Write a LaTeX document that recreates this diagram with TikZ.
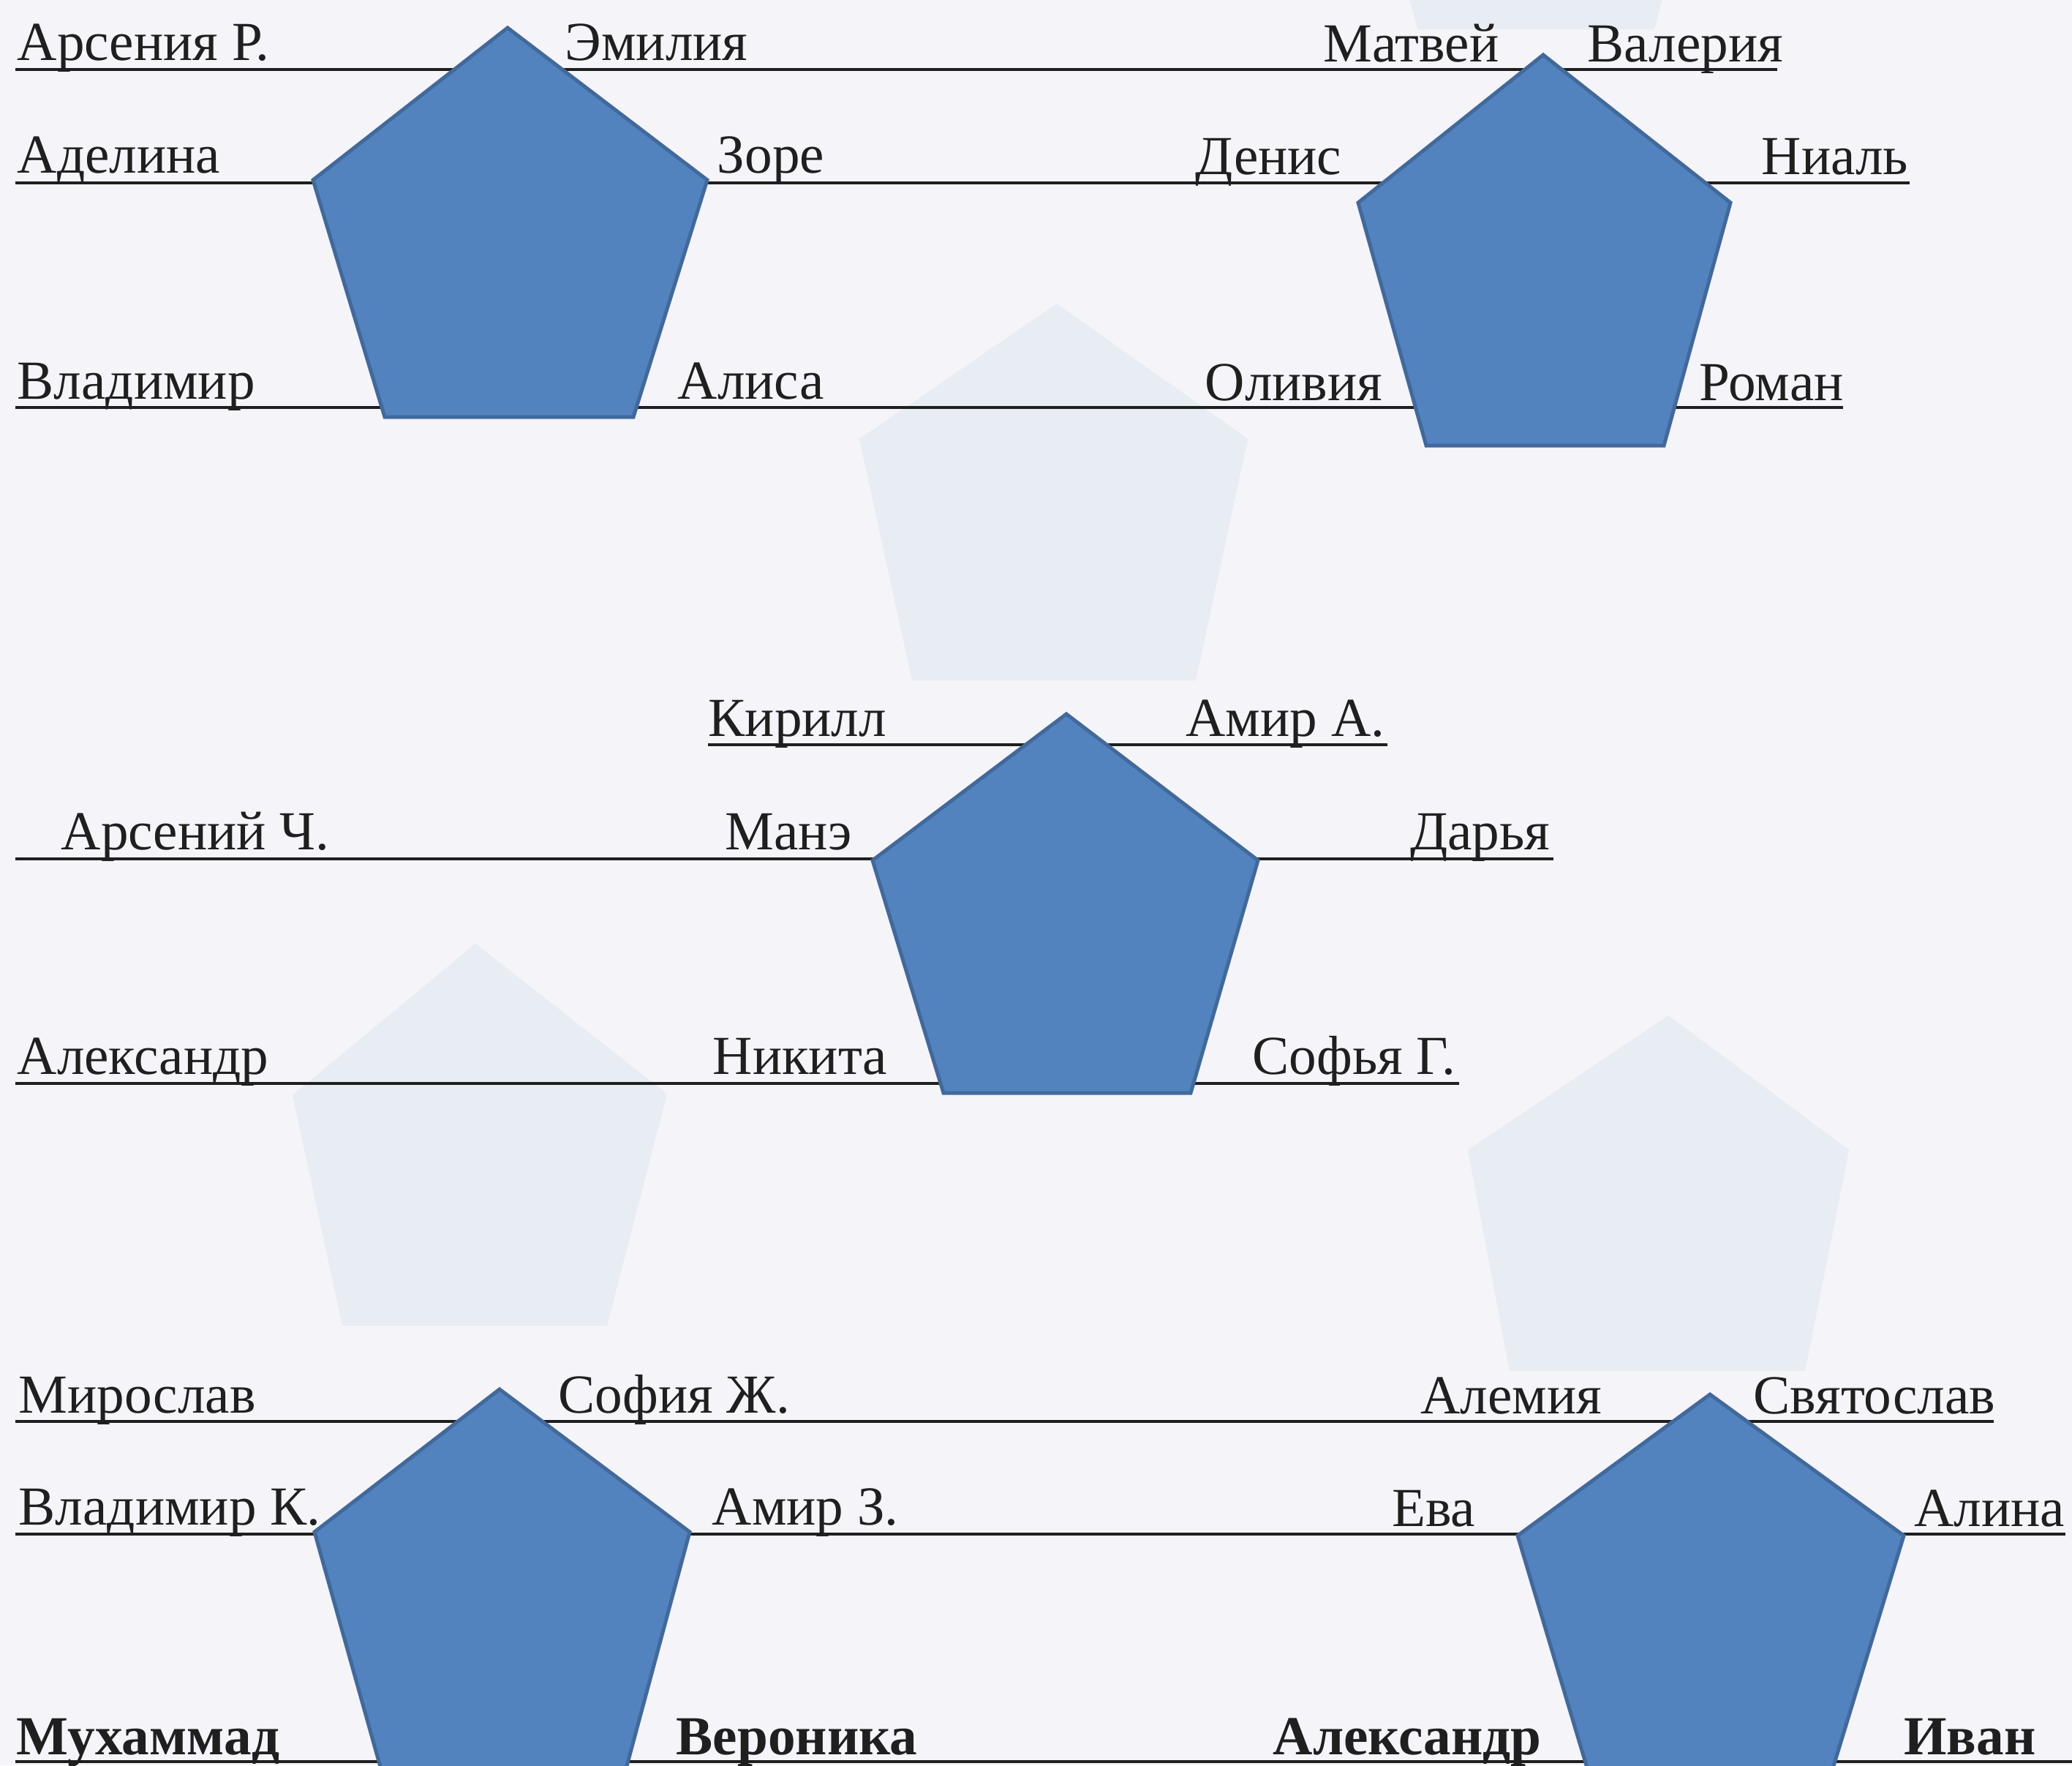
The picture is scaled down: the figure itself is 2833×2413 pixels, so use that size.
\documentclass[tikz,border=0pt]{standalone}
\usepackage{fontspec}
\setmainfont{Liberation Serif}
\definecolor{paper}{HTML}{F5F4F9}
\definecolor{ghost}{HTML}{E8ECF3}
\definecolor{pentfill}{HTML}{5383BE}
\definecolor{pentedge}{HTML}{41699B}
\definecolor{ink}{HTML}{1F1F1F}
\tikzset{
  pent/.style={fill=pentfill, draw=pentedge, line width=0.5mm, line join=miter},
  ghostpent/.style={fill=ghost, draw=none},
  uline/.style={draw=ink, line width=0.48mm},
  lbl/.style={inner sep=0pt, text=ink, font=\fontsize{21.4}{25}\selectfont},
  blbl/.style={lbl, font=\fontsize{21.4}{25}\selectfont\bfseries},
}
\begin{document}
\begin{tikzpicture}[x=0.1mm, y=-0.1mm]
\useasboundingbox (0,0) rectangle (2833,2413);
\fill[paper] (0,0) rectangle (2833,2413);
\clip (0,0) rectangle (2833,2413);
% faint show-through pentagons
\fill[ghostpent] (1445,415) -- (1706,600) -- (1635,930) -- (1247,930) -- (1175,600) -- cycle;
\fill[ghostpent] (650,1290) -- (912,1495) -- (830,1812) -- (468,1812) -- (400,1497) -- cycle;
\fill[ghostpent] (2281,1388) -- (2528,1572) -- (2468,1874) -- (2064,1874) -- (2007,1572) -- cycle;
\fill[ghostpent] (1925,-10) -- (2275,-10) -- (2262,40) -- (1938,40) -- cycle;
% underline coordinates
\coordinate (a1) at (21,95);    \coordinate (a2) at (2430,95);
\coordinate (b1) at (21,250);   \coordinate (b2) at (2611,250);
\coordinate (c1) at (21,557);   \coordinate (c2) at (2520,557);
\coordinate (d1) at (968,1018); \coordinate (d2) at (1897,1018);
\coordinate (e1) at (21,1174);  \coordinate (e2) at (2124,1174);
\coordinate (f1) at (21,1481);  \coordinate (f2) at (1995,1481);
\coordinate (g1) at (21,1943);  \coordinate (g2) at (2726,1943);
\coordinate (h1) at (21,2097);  \coordinate (h2) at (2824,2097);
\coordinate (i1) at (21,2408);  \coordinate (i2) at (2833,2408);
\draw[uline] (a1) -- (a2);
\draw[uline] (b1) -- (b2);
\draw[uline] (c1) -- (c2);
\draw[uline] (d1) -- (d2);
\draw[uline] (e1) -- (e2);
\draw[uline] (f1) -- (f2);
\draw[uline] (g1) -- (g2);
\draw[uline] (h1) -- (h2);
\draw[uline] (i1) -- (i2);
% pentagons
\draw[pent] (694,38) -- (967,246) -- (866,570) -- (526,570) -- (428,246) -- cycle;
\draw[pent] (2110,75) -- (2366,277) -- (2275,609) -- (1950,609) -- (1857,277) -- cycle;
\draw[pent] (1458,976) -- (1720,1176) -- (1628,1494) -- (1290,1494) -- (1193,1176) -- cycle;
\draw[pent] (683,1899) -- (943,2094) -- (850,2440) -- (527,2440) -- (430,2094) -- cycle;
\draw[pent] (2338,1906) -- (2603,2099) -- (2499,2440) -- (2177,2440) -- (2075,2099) -- cycle;
% labels row A
\node[lbl, anchor=base west] (tA1) at (23,82) {Арсения Р.};
\node[lbl, anchor=base west] (tA2) at (772,82) {Эмилия};
\node[lbl, anchor=base east] (tA3) at (2050,84) {Матвей};
\node[lbl, anchor=base west] (tA4) at (2170,84) {Валерия};
% row B
\node[lbl, anchor=base west] (tB1) at (23,236) {Аделина};
\node[lbl, anchor=base west] (tB2) at (980,236) {Зоре};
\node[lbl, anchor=base east] (tB3) at (1835,238) {Денис};
\node[lbl, anchor=base east] (tB4) at (2610,238) {Ниаль};
% row C
\node[lbl, anchor=base west] (tC1) at (23,545) {Владимир};
\node[lbl, anchor=base west] (tC2) at (926,545) {Алиса};
\node[lbl, anchor=base east] (tC3) at (1891,547) {Оливия};
\node[lbl, anchor=base west] (tC4) at (2323,547) {Роман};
% row D
\node[lbl, anchor=base west] (tD1) at (968,1006) {Кирилл};
\node[lbl, anchor=base east] (tD2) at (1894,1006) {Амир А.};
% row E
\node[lbl, anchor=base west] (tE1) at (83,1161) {Арсений Ч.};
\node[lbl, anchor=base east] (tE2) at (1165,1161) {Манэ};
\node[lbl, anchor=base east] (tE3) at (2120,1161) {Дарья};
% row F
\node[lbl, anchor=base west] (tF1) at (23,1468) {Александр};
\node[lbl, anchor=base east] (tF2) at (1214,1468) {Никита};
\node[lbl, anchor=base west] (tF3) at (1712,1468) {Софья Г.};
% row G
\node[lbl, anchor=base west] (tG1) at (25,1931) {Мирослав};
\node[lbl, anchor=base west] (tG2) at (763,1931) {София Ж.};
\node[lbl, anchor=base east] (tG3) at (2191,1932) {Алемия};
\node[lbl, anchor=base west] (tG4) at (2397,1932) {Святослав};
% row H
\node[lbl, anchor=base west] (tH1) at (25,2084) {Владимир К.};
\node[lbl, anchor=base west] (tH2) at (973,2084) {Амир З.};
\node[lbl, anchor=base east] (tH3) at (2018,2086) {Ева};
\node[lbl, anchor=base east] (tH4) at (2824,2086) {Алина};
% row I (bold)
\node[blbl, anchor=base west] (tI1) at (22,2398) {Мухаммад};
\node[blbl, anchor=base west] (tI2) at (924,2398) {Вероника};
\node[blbl, anchor=base east] (tI3) at (2108,2398) {Александр};
\node[blbl, anchor=base east] (tI4) at (2784,2398) {Иван};
\end{tikzpicture}
\end{document}
